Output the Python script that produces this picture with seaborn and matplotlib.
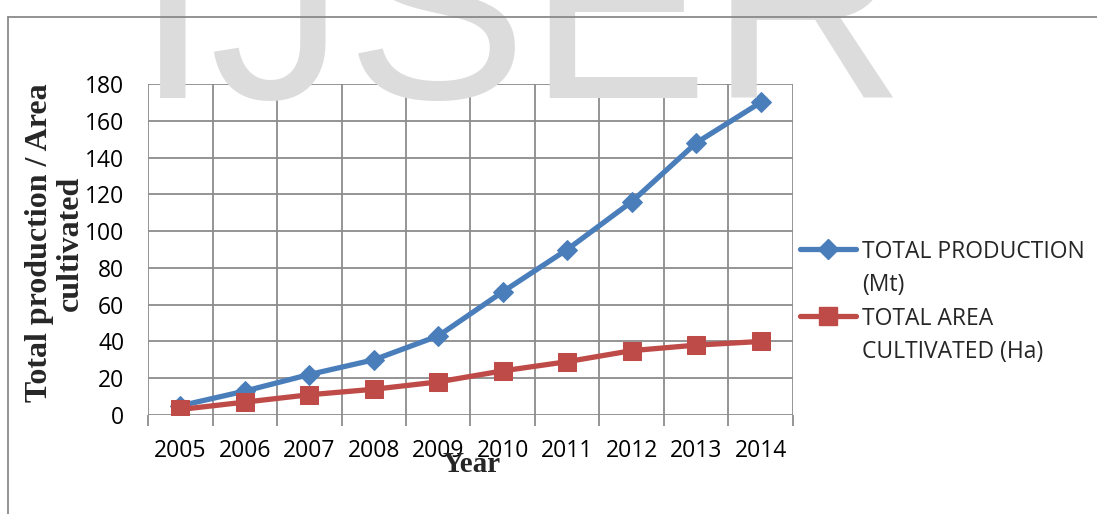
import matplotlib
matplotlib.use("Agg")
import matplotlib.pyplot as plt
import seaborn as sns
import pandas as pd
from matplotlib.lines import Line2D

years = ["2005", "2006", "2007", "2008", "2009", "2010", "2011", "2012", "2013", "2014"]
production = [5, 13, 22, 30, 43, 67, 90, 116, 148, 170]
area = [3, 7, 11, 14, 18, 24, 29, 35, 38, 40]
label_prod = "TOTAL PRODUCTION\n(Mt)"
label_area = "TOTAL AREA\nCULTIVATED (Ha)"
yticks = [0, 20, 40, 60, 80, 100, 120, 140, 160, 180]

sns.set_theme(style="white")
plt.rcParams["font.family"] = ["Open Sans", "DejaVu Sans"]

W, H = 1097, 514
fig = plt.figure(figsize=(W / 100, H / 100), dpi=100)
fig.patch.set_facecolor("white")

def fx(px):
    return px / W

def fy(py):
    return 1 - py / H

# watermark
fig.text(fx(521), fy(98), "IJSER", fontsize=196, color="#dcdcdc",
         family=["Liberation Sans"], ha="center", va="baseline", zorder=0)

# chart border
fig.add_artist(Line2D([fx(8), fx(8)], [fy(17), 0], color="#8a8a8a", lw=1.3))
fig.add_artist(Line2D([fx(8), 1], [fy(17), fy(17)], color="#8a8a8a", lw=1.3))

ax = fig.add_axes([fx(148), fy(415), fx(793) - fx(148), fy(84) - fy(415)])
ax.set_facecolor("none")

df = pd.DataFrame({"x": list(range(len(years))), "prod": production, "area": area})
blue = "#4a7ebb"
red = "#be4b48"
sns.lineplot(data=df, x="x", y="prod", ax=ax, color=blue, lw=3.8, marker="D",
             markersize=10, markeredgecolor=blue, zorder=3, legend=False)
sns.lineplot(data=df, x="x", y="area", ax=ax, color=red, lw=3.8, marker="s",
             markersize=13, markeredgecolor=red, zorder=4, legend=False)

ax.set_xlim(-0.5, len(years) - 0.5)
ax.set_ylim(0, 180)
ax.set_xticks(range(len(years)))
ax.set_xticklabels(years)
ax.set_xticks([i - 0.5 for i in range(len(years) + 1)], minor=True)
ax.set_yticks(yticks)
ax.set_yticklabels([str(v) for v in yticks])
grid_c = "#8c8c8c"
ax.grid(False)
ax.yaxis.grid(True, color=grid_c, lw=1.3)
ax.xaxis.grid(True, which="minor", color=grid_c, lw=1.3)
for s in ax.spines.values():
    s.set_visible(False)
ax.tick_params(axis="x", which="major", length=0, pad=17, labelsize=16.5, labelcolor="black")
ax.tick_params(axis="x", which="minor", length=8, width=1.3, color=grid_c, direction="out")
ax.tick_params(axis="y", length=8, width=1.3, color=grid_c, direction="out", pad=9,
               labelsize=16.5, labelcolor="black")
ax.tick_params(axis="x", which="minor", bottom=True)
ax.set_xlabel("")
ax.set_ylabel("")

# axis titles
fig.text(fx(472), fy(465), "Year", fontsize=21, fontweight="bold",
         family=["Liberation Serif"], ha="center", va="center")
fig.text(fx(55), fy(243), "Total production / Area\ncultivated", fontsize=23,
         fontweight="bold", family=["Liberation Serif"], rotation=90,
         ha="center", va="center", multialignment="center", linespacing=1.05)

# legend (handle aligned with first line of each label)
for ly, col, mk, ms, lab in [(249, blue, "D", 10, label_prod), (316, red, "s", 13, label_area)]:
    fig.add_artist(Line2D([fx(800), fx(828), fx(856)], [fy(ly)] * 3, color=col, lw=3.8,
                          marker=mk, markersize=ms, markevery=[1], markeredgecolor=col,
                          solid_capstyle="round"))
    fig.text(fx(862), fy(ly - 9), lab, fontsize=16.5, ha="left", va="top",
             linespacing=1.5, transform=fig.transFigure)

fig.savefig("out.png", dpi=100)
